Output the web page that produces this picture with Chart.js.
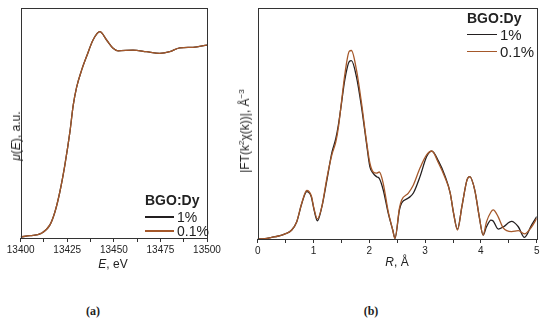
<!DOCTYPE html>
<html>
<head>
<meta charset="utf-8">
<script src="https://cdn.jsdelivr.net/npm/chart.js@4.4.1/dist/chart.umd.min.js"></script>
<style>
  html, body { margin: 0; padding: 0; background: #fff; }
  #wrap { position: relative; width: 550px; height: 320px; overflow: hidden; font-family: "Liberation Sans", Arial, sans-serif; color: #222; }
  .cv { position: absolute; top: 0; }
  .lbl { position: absolute; white-space: nowrap; transform: translate(-50%, -50%); font-size: 12px; line-height: 1; }
  .rot { transform: translate(-50%, -50%) rotate(-90deg); }
  .cap { font-family: "Liberation Serif", "Times New Roman", serif; font-weight: bold; font-size: 12px; }
  .leg { position: absolute; white-space: nowrap; line-height: 1; }
  .leg b { display: block; }
  .row { display: flex; align-items: center; }
  .row span.ln { display: inline-block; height: 1.5px; margin-right: 3px; }
  sup { font-size: 8px; vertical-align: 5px; line-height: 0; }
</style>
</head>
<body>
<div id="wrap">
  <canvas id="chartA" class="cv" style="left:0" width="230" height="260"></canvas>
  <canvas id="chartB" class="cv" style="left:220px" width="330" height="260"></canvas>

  <div class="lbl rot" style="left:16px; top:136px;"><i>μ</i>(<i>E</i>), a.u.</div>
  <div class="lbl" style="left:113px; top:264px;"><i>E</i>, eV</div>
  <div class="lbl rot" style="left:245px; top:131px;">|FT(k<sup>2</sup>χ(k))|, Å<sup>−3</sup></div>
  <div class="lbl" style="left:397px; top:262px;"><i>R</i>, Å</div>

  <div class="lbl cap" style="left:93px; top:311px;">(a)</div>
  <div class="lbl cap" style="left:371px; top:311px;">(b)</div>

  <div class="leg" style="left:145px; top:193px; font-size:14px;">
    <b>BGO:Dy</b>
    <div class="row" style="margin-top:3px"><span class="ln" style="width:29px;background:#231f20"></span>1%</div>
    <div class="row" style="margin-top:0px"><span class="ln" style="width:29px;background:#a5582a"></span>0.1%</div>
  </div>
  <div class="leg" style="left:467px; top:11px; font-size:15px;">
    <b style="font-size:14px">BGO:Dy</b>
    <div class="row" style="margin-top:2px"><span class="ln" style="width:30px;background:#231f20"></span>1%</div>
    <div class="row" style="margin-top:2px"><span class="ln" style="width:30px;background:#a5582a"></span>0.1%</div>
  </div>
</div>

<script>
// (a) XANES, energy in eV and normalised absorption
var energy = [13400, 13405, 13411, 13415.7, 13418.4, 13421, 13423.7, 13426.4, 13428.2, 13430, 13432.7,
  13435.4, 13438.9, 13442.5, 13446.1, 13449.6, 13452.3, 13460.3, 13467.5, 13474.6, 13480, 13485.4, 13492.5, 13500];
var muDy1 = [0.005, 0.01, 0.02, 0.057, 0.114, 0.2, 0.317, 0.46, 0.578, 0.655, 0.73,
  0.79, 0.862, 0.897, 0.861, 0.825, 0.814, 0.817, 0.81, 0.803, 0.81, 0.827, 0.829, 0.839];
var muDy01 = muDy1.slice();

// (b) Fourier transform magnitude, R in angstrom
var rDist = [0, 0.13, 0.25, 0.37, 0.49, 0.61, 0.70, 0.79, 0.88, 0.96, 1.01, 1.07, 1.15, 1.24, 1.33, 1.40, 1.45,
  1.50, 1.56, 1.64, 1.68, 1.77, 1.86, 1.95, 2.01, 2.07, 2.13, 2.18, 2.25, 2.34, 2.42, 2.46, 2.54, 2.58, 2.70, 2.79,
  2.91, 3.03, 3.12, 3.24, 3.36, 3.45, 3.51, 3.58, 3.66, 3.75, 3.80, 3.89, 3.97, 4.04, 4.10, 4.18, 4.22, 4.31,
  4.40, 4.55, 4.67, 4.78, 4.91, 5.00];
var ftDy1 = [0, 0.01, 0.07, 0.13, 0.22, 0.39, 0.75, 1.54, 2.05, 1.83, 1.26, 0.79, 1.40, 2.55, 3.75, 4.35, 5.00,
  5.85, 6.88, 7.68, 7.72, 7.02, 5.72, 4.14, 3.13, 2.84, 2.70, 2.62, 2.12, 1.11, 0.39, 0.03, 1.26, 1.56, 1.77, 1.99,
  2.71, 3.58, 3.80, 3.37, 2.71, 1.99, 1.12, 0.42, 1.41, 2.55, 2.70, 2.12, 0.97, 0.17, 0.53, 0.82, 0.78, 0.43,
  0.52, 0.76, 0.53, 0.07, 0.61, 0.97];
var ftDy01 = [0, 0.01, 0.07, 0.13, 0.22, 0.39, 0.75, 1.56, 2.10, 1.87, 1.30, 0.87, 1.40, 2.64, 3.65, 4.20, 4.90,
  5.90, 7.10, 8.12, 8.16, 7.32, 5.89, 4.23, 3.29, 2.90, 2.85, 2.90, 2.40, 1.17, 0.39, 0.02, 1.34, 1.69, 1.99, 2.34,
  3.08, 3.65, 3.81, 3.29, 2.64, 1.99, 1.12, 0.39, 1.41, 2.55, 2.70, 2.12, 0.97, 0.17, 0.74, 1.17, 1.26, 0.96,
  0.48, 0.32, 0.36, 0.22, 0.53, 0.89];

var BLACK = "#231f20";
var BROWN = "#a5582a";
var AXIS = "#333333";

function pts(xs, ys) {
  return xs.map(function (x, i) { return { x: x, y: ys[i] }; });
}

// box round the plot area
var frame = {
  id: "frame",
  afterDraw: function (chart) {
    var a = chart.chartArea, ctx = chart.ctx;
    ctx.save();
    ctx.strokeStyle = AXIS;
    ctx.lineWidth = 1;
    ctx.strokeRect(Math.round(a.left) + 0.5, Math.round(a.top) + 0.5,
      Math.round(a.right - a.left), Math.round(a.bottom - a.top));
    ctx.restore();
  }
};

function lineSet(label, data, color, order) {
  return {
    label: label, data: data, borderColor: color, borderWidth: 1.3,
    pointRadius: 0, fill: false, cubicInterpolationMode: "monotone", order: order
  };
}

function makeChart(id, cfg) {
  return new Chart(document.getElementById(id), {
    type: "line",
    data: {
      datasets: [
        lineSet("1%", pts(cfg.x, cfg.s1), BLACK, 1),
        lineSet("0.1%", pts(cfg.x, cfg.s2), BROWN, 0)
      ]
    },
    options: {
      responsive: false,
      animation: false,
      layout: { padding: { top: 8, right: cfg.padRight, left: 0, bottom: 0 } },
      plugins: { legend: { display: false }, tooltip: { enabled: false } },
      scales: {
        x: {
          type: "linear", min: cfg.xMin, max: cfg.xMax,
          afterFit: function (s) { s.height = cfg.xHeight; },
          border: { display: false },
          grid: { drawOnChartArea: false, drawTicks: true, tickLength: 4, color: AXIS },
          ticks: {
            stepSize: cfg.step, autoSkip: false, maxRotation: 0, padding: 2,
            color: "#222", font: { family: "Liberation Sans", size: 10 },
            callback: function (v) { return Math.abs(v % cfg.major) < 1e-6 ? String(v) : ""; }
          }
        },
        y: {
          min: 0, max: cfg.yMax,
          afterFit: function (s) { s.width = cfg.yWidth; },
          border: { display: false },
          grid: { display: false },
          ticks: { display: false }
        }
      }
    },
    plugins: [frame]
  });
}

makeChart("chartA", {
  x: energy, s1: muDy1, s2: muDy01, xMin: 13400, xMax: 13500, step: 12.5, major: 25,
  yMax: 1, yWidth: 20.7, padRight: 23, xHeight: 22
});

makeChart("chartB", {
  x: rDist, s1: ftDy1, s2: ftDy01, xMin: 0, xMax: 5, step: 0.5, major: 1,
  yMax: 10, yWidth: 37.7, padRight: 13.3, xHeight: 21
});
</script>
</body>
</html>
